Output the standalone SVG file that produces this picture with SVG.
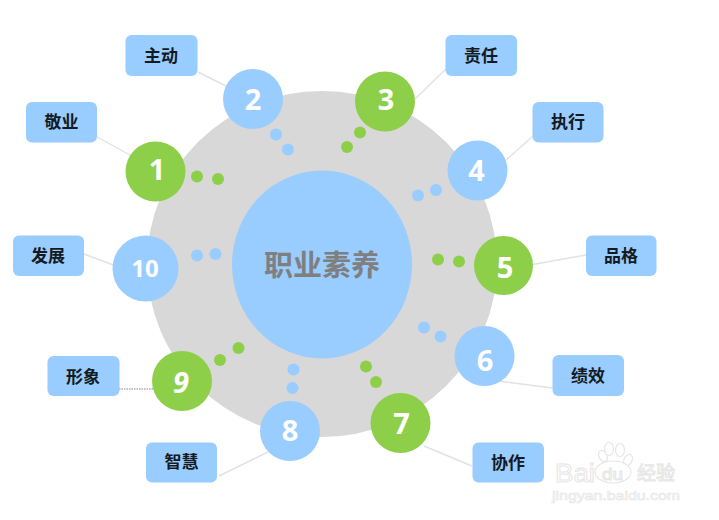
<svg xmlns="http://www.w3.org/2000/svg" width="719" height="520" viewBox="0 0 719 520">
<style>
.bg{fill:#fff}
.ring{fill:#d8d8d8}
.hub{fill:#99ccff}
.b{fill:#99ccff}
.g{fill:#8ecf4a}
.lbl{fill:#99ccff}
.t{font-family:"Noto Sans CJK SC","Liberation Sans",sans-serif;font-size:17px;font-weight:700;fill:#141a22;text-anchor:middle}
.n{font-family:"Open Sans","Liberation Sans",sans-serif;font-size:29px;font-weight:700;fill:#fff;text-anchor:middle}
.c line{stroke:#e2e2e2;stroke-width:1.4}
.wm{fill:#fff;stroke:#e6e6e6;stroke-width:1;font-family:"Liberation Sans",sans-serif}
.wp{fill:#fff;stroke:#e6e6e6;stroke-width:1.2}
</style>
<rect class="bg" width="719" height="520"/>
<g id="hub-ring"><ellipse class="ring" cx="322" cy="264" rx="175" ry="173"/></g>
<g id="connectors" class="c">
<line x1="198" y1="72" x2="228" y2="87"/>
<line x1="97" y1="137" x2="130" y2="155"/>
<line x1="84" y1="254" x2="116" y2="266"/>
<line x1="119" y1="389" x2="154" y2="389" style="stroke:#8a7f86;stroke-dasharray:1.5 1;stroke-width:1"/>
<line x1="219" y1="476" x2="268" y2="452"/>
<line x1="472" y1="466" x2="424" y2="446"/>
<line x1="552" y1="388" x2="498" y2="381"/>
<line x1="586" y1="255" x2="530" y2="265"/>
<line x1="533" y1="136" x2="505" y2="161"/>
<line x1="446" y1="69" x2="414" y2="100"/>
</g>
<g id="dots">
<circle class="g" cx="197" cy="176.500" r="6"/><circle class="g" cx="218" cy="179" r="6"/>
<circle class="b" cx="276" cy="134.500" r="6"/><circle class="b" cx="288" cy="149.500" r="6"/>
<circle class="g" cx="347" cy="147" r="6"/><circle class="g" cx="360" cy="132.500" r="6"/>
<circle class="b" cx="418" cy="195.500" r="6"/><circle class="b" cx="436" cy="190" r="6"/>
<circle class="g" cx="438" cy="259.500" r="6"/><circle class="g" cx="459" cy="261.500" r="6"/>
<circle class="b" cx="424" cy="327.500" r="6"/><circle class="b" cx="440.500" cy="336.500" r="6"/>
<circle class="g" cx="366" cy="366.500" r="6"/><circle class="g" cx="376" cy="382" r="6"/>
<circle class="b" cx="293.500" cy="369.500" r="6"/><circle class="b" cx="292.500" cy="388" r="6"/>
<circle class="g" cx="220" cy="360" r="6"/><circle class="g" cx="238.500" cy="348" r="6"/>
<circle class="b" cx="197" cy="255.500" r="6"/><circle class="b" cx="215.500" cy="254" r="6"/>
</g>
<g id="center"><ellipse class="hub" cx="322" cy="264.500" rx="90" ry="94"/>
<text x="322" y="276" style="font-family:'Noto Sans CJK SC',sans-serif;font-size:29px;font-weight:700;fill:#7f7f7f;text-anchor:middle">职业素养</text></g>
<g id="node1"><circle class="g" cx="155.500" cy="171.500" r="30"/><text class="n" x="157" y="180">1</text></g>
<g id="node2"><circle class="b" cx="253" cy="99" r="30"/><text class="n" x="253" y="110">2</text></g>
<g id="node3"><circle class="g" cx="385" cy="101.500" r="30"/><text class="n" x="386" y="110">3</text></g>
<g id="node4"><circle class="b" cx="477.500" cy="170.500" r="30"/><text class="n" x="476.500" y="181">4</text></g>
<g id="node5"><circle class="g" cx="503.500" cy="265.500" r="29.500"/><text class="n" x="505" y="278">5</text></g>
<g id="node6"><circle class="b" cx="484.500" cy="356" r="30"/><text class="n" x="485" y="371">6</text></g>
<g id="node7"><circle class="g" cx="400.500" cy="423" r="30"/><text class="n" x="401.500" y="434">7</text></g>
<g id="node8"><circle class="b" cx="290" cy="431" r="30"/><text class="n" x="290" y="441">8</text></g>
<g id="node9"><circle class="g" cx="182" cy="381" r="30"/><text class="n" x="181" y="393" font-style="italic">9</text></g>
<g id="node10"><circle class="b" cx="145.500" cy="268.500" r="33"/><text class="n" x="145" y="277" style="font-size:24px">10</text></g>
<g id="label1"><rect class="lbl" x="26" y="102" width="71" height="40.500" rx="6"/><text class="t" x="61.500" y="128">敬业</text></g>
<g id="label2"><rect class="lbl" x="125.500" y="35" width="72" height="41" rx="6"/><text class="t" x="161" y="62">主动</text></g>
<g id="label3"><rect class="lbl" x="445.500" y="35" width="71.500" height="41" rx="6"/><text class="t" x="481" y="62">责任</text></g>
<g id="label4"><rect class="lbl" x="532.500" y="102" width="71" height="40.500" rx="6"/><text class="t" x="568" y="128">执行</text></g>
<g id="label5"><rect class="lbl" x="586" y="235.500" width="70.500" height="40.500" rx="6"/><text class="t" x="621" y="262">品格</text></g>
<g id="label6"><rect class="lbl" x="552.500" y="355" width="71.500" height="41" rx="6"/><text class="t" x="588" y="382">绩效</text></g>
<g id="label7"><rect class="lbl" x="472.500" y="442.500" width="71.500" height="40" rx="6"/><text class="t" x="508" y="469">协作</text></g>
<g id="label8"><rect class="lbl" x="146" y="442.500" width="71" height="40" rx="6"/><text class="t" x="181.500" y="468">智慧</text></g>
<g id="label9"><rect class="lbl" x="47.500" y="356" width="72" height="40" rx="6"/><text class="t" x="83" y="383">形象</text></g>
<g id="label10"><rect class="lbl" x="13" y="235.500" width="71" height="40.500" rx="6"/><text class="t" x="48" y="262">发展</text></g>
<g id="watermark">
<ellipse class="wp" cx="603" cy="456" rx="4" ry="6" transform="rotate(-25 603 456)"/><ellipse class="wp" cx="609" cy="449" rx="4.500" ry="6.500"/><ellipse class="wp" cx="620" cy="450" rx="4.500" ry="6.500"/><ellipse class="wp" cx="628" cy="460" rx="4" ry="6" transform="rotate(25 628 460)"/>
<ellipse class="wp" cx="613" cy="472" rx="18" ry="11"/>
<text class="wm" x="555" y="482" font-size="26" textLength="40" lengthAdjust="spacingAndGlyphs">Bai</text>
<text class="wm" x="602" y="480" font-size="16" textLength="21" lengthAdjust="spacingAndGlyphs">du</text>
<text class="wm" x="637" y="480" font-size="19" style="font-family:'Noto Sans CJK SC',sans-serif">经验</text>
<text class="wm" x="552" y="500" font-size="12" style="stroke-width:.6" textLength="128" lengthAdjust="spacingAndGlyphs">jingyan.baidu.com</text>
</g>
</svg>
